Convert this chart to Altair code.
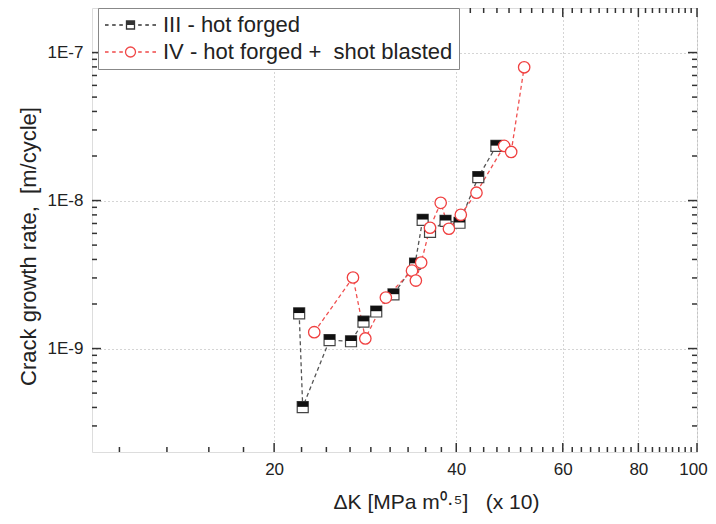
import altair as alt
import pandas as pd

FONT = "Liberation Sans, Arial, sans-serif"

# ---- data ----
dk_iii = [22.0, 22.3, 24.7, 26.8, 28.1, 29.5, 31.5, 34.2, 35.2, 36.2, 38.4, 40.5, 43.5, 46.6]
rate_iii = [1.73e-9, 4.02e-10, 1.14e-9, 1.12e-9, 1.52e-9, 1.78e-9, 2.32e-9, 3.75e-9,
            7.41e-9, 6.15e-9, 7.30e-9, 7.08e-9, 1.44e-8, 2.34e-8]

dk_iv = [23.3, 27.0, 28.3, 30.6, 33.8, 34.3, 35.0, 36.2, 37.7, 38.9, 40.7, 43.2, 48.0, 49.3, 51.8]
rate_iv = [1.29e-9, 3.02e-9, 1.17e-9, 2.21e-9, 3.36e-9, 2.88e-9, 3.81e-9, 6.55e-9,
           9.65e-9, 6.45e-9, 8.01e-9, 1.13e-8, 2.34e-8, 2.13e-8, 7.95e-8]

legend_labels = ["III - hot forged", "IV - hot forged +\u00a0 shot blasted"]
series_colors = ["#333333", "#f04848"]

x_major = [20, 40, 60, 80, 100]
x_minor = [11.1, 13.3, 15.6, 17.8, 22.2, 24.4, 26.7, 28.9, 31.1, 33.3, 35.6, 37.8,
           42.2, 44.4, 46.7, 48.9, 51.1, 53.3, 55.6, 57.8, 62.2, 64.4, 66.7, 68.9,
           71.1, 73.3, 75.6, 77.8, 82.2, 84.4, 86.7, 88.9, 91.1, 93.3, 95.6, 97.8]
y_major = [1e-9, 1e-8, 1e-7]
y_minor = [3e-10, 4e-10, 5e-10, 6e-10, 7e-10, 8e-10, 9e-10,
           2e-9, 3e-9, 4e-9, 5e-9, 6e-9, 7e-9, 8e-9, 9e-9,
           2e-8, 3e-8, 4e-8, 5e-8, 6e-8, 7e-8, 8e-8, 9e-8]

x_title = "ΔK [MPa m⁰·⁵]\u00a0\u00a0 (x 10)"
y_title = "Crack growth rate,\u00a0 [m/cycle]"

W, H = 605, 444

df_iii = pd.DataFrame({"dk": dk_iii, "rate": rate_iii, "i": list(range(len(dk_iii)))})
df_iv = pd.DataFrame({"dk": dk_iv, "rate": rate_iv, "i": list(range(len(dk_iv)))})

X = alt.X(
    "dk:Q",
    scale=alt.Scale(type="log", domain=[10, 100], nice=False),
    axis=alt.Axis(
        values=x_major, format="d", grid=True, gridDash=[1, 3], gridColor="#aaa",
        gridWidth=1, ticks=False, domain=False, labelFontSize=17, labelPadding=9,
        labelColor="#222", labelFont=FONT, labelFlush=False, labelOverlap=False,
        labelOffset={"condition": {"test": "datum.value >= 100", "value": -4}, "value": 0},
        title=x_title, titleFontSize=21, titleFontWeight="normal",
        titleFont=FONT, titleColor="#222", titleX=344, titleY=56,
        titleBaseline="alphabetic", titleAlign="center",
    ),
)
Y = alt.Y(
    "rate:Q",
    scale=alt.Scale(type="log", domain=[2e-10, 2e-7], nice=False),
    axis=alt.Axis(
        values=y_major, labelExpr="'1E-' + round(-log(datum.value)/LN10)",
        grid=True, gridDash=[1, 3], gridColor="#aaa", gridWidth=1, ticks=False,
        domain=False, labelFontSize=17, labelPadding=9, labelColor="#222",
        labelFont=FONT, labelOverlap=False,
        title=y_title, titleFontSize=22,
        titleFontWeight="normal", titleFont=FONT, titleColor="#222",
        titleX=-57, titleY=238, titleBaseline="alphabetic", titleAlign="center",
    ),
)

line_iii = alt.Chart(df_iii).mark_line(color="#555", strokeDash=[4, 3], strokeWidth=1.3).encode(
    x=X, y=Y, order="i:Q")
line_iv = alt.Chart(df_iv).mark_line(color="#f05050", strokeDash=[4, 3], strokeWidth=1.3).encode(
    x=X, y=Y, order="i:Q")

sq_iii = alt.Chart(df_iii).mark_point(
    shape="square", filled=True, fill="white", stroke="#444", strokeWidth=1.2,
    size=121, opacity=1).encode(x=X, y=Y)
half_iii = alt.Chart(df_iii).mark_point(
    shape="M-1,-1H1V-0.05H-1Z", filled=True, fill="#111", strokeWidth=0,
    size=121, opacity=1).encode(x=X, y=Y)
circ_iv = alt.Chart(df_iv).mark_point(
    shape="circle", filled=True, fill="white", stroke="#f04040", strokeWidth=1.3,
    size=130, opacity=1).encode(x=X, y=Y)


def xticks(vals, length):
    base = alt.Chart(pd.DataFrame({"dk": vals})).mark_rule(color="#333", strokeWidth=1.5)
    return [
        base.encode(x=X, y=alt.value(H), y2=alt.value(H - length)),
        base.encode(x=X, y=alt.value(0), y2=alt.value(length)),
    ]


def yticks(vals, length):
    base = alt.Chart(pd.DataFrame({"rate": vals})).mark_rule(color="#333", strokeWidth=1.5)
    return [
        base.encode(y=Y, x=alt.value(0), x2=alt.value(length)),
        base.encode(y=Y, x=alt.value(W), x2=alt.value(W - length)),
    ]


ticks = xticks(x_major, 9) + xticks(x_minor, 5) + yticks(y_major, 9) + yticks(y_minor, 5)

# legend symbols: dashed line with marker
dashes = ("M-1,0H-0.86M-0.72,0H-0.58M-0.44,0H-0.3"
          "M0.3,0H0.44M0.58,0H0.72M0.86,0H1")
path_iii = (dashes + "M-0.157,-0.157H0.157V0.157H-0.157Z"
            "M-0.157,-0.137H0.157M-0.157,-0.098H0.157M-0.157,-0.059H0.157M-0.157,-0.025H0.157")
path_iv = dashes + "M0.196,0A0.196,0.196 0 1 1 -0.196,0A0.196,0.196 0 1 1 0.196,0Z"

leg = alt.Legend(
    title=None, orient="none", legendX=6, legendY=0, strokeColor="#888",
    fillColor="white", padding=6, labelFontSize=22, labelFont=FONT,
    labelColor="#222", labelLimit=500, symbolSize=2601, symbolStrokeWidth=1.3,
    clipHeight=22, rowPadding=5, labelOffset=6,
)
legend_layer = alt.Chart(pd.DataFrame({"series": legend_labels})).transform_filter(
    "false").mark_point(filled=False, opacity=1, size=2601, strokeWidth=1.3).encode(
    color=alt.Color("series:N", scale=alt.Scale(domain=legend_labels, range=series_colors), legend=leg),
    shape=alt.Shape("series:N", scale=alt.Scale(domain=legend_labels, range=[path_iii, path_iv]), legend=leg),
)

chart = alt.layer(
    line_iii, line_iv, sq_iii, half_iii, circ_iv, *ticks, legend_layer
).properties(
    width=W, height=H,
    autosize=alt.AutoSizeParams(type="none"),
    padding={"left": 84, "top": 0, "right": 11, "bottom": 62},
).configure_view(stroke="#333", strokeWidth=2).configure(font=FONT)

chart.save("out.html", embed_options={"renderer": "svg", "actions": False})
